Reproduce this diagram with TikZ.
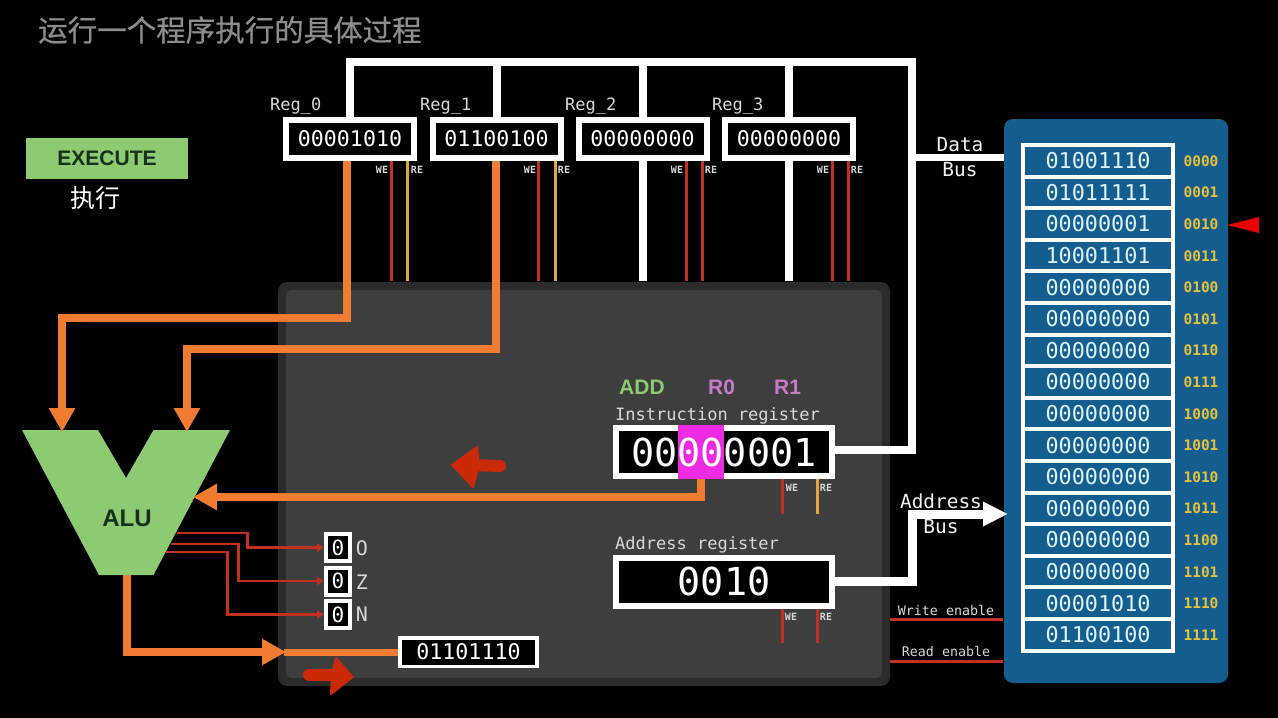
\documentclass[tikz,border=0pt]{standalone}
\usepackage{fontspec}
\setmainfont{Liberation Sans}
\newfontfamily\monof{DejaVu Sans Mono}
\newfontfamily\cjkf{Noto Sans CJK SC}
\newfontfamily\cjkm[FakeBold=0.5]{Noto Sans CJK SC}
\usetikzlibrary{arrows.meta}
\definecolor{bgpanel}{HTML}{3E3E3E}
\definecolor{edgepanel}{HTML}{2B2B2B}
\definecolor{orangewire}{HTML}{F07C31}
\definecolor{redwire}{HTML}{C4301F}
\definecolor{yellowwire}{HTML}{E0A83A}
\definecolor{alugreen}{HTML}{8CCB72}
\definecolor{memblue}{HTML}{135E8E}
\definecolor{addryellow}{HTML}{E6C13C}
\definecolor{softwhite}{HTML}{F2F2F2}
\definecolor{celltext}{HTML}{DDF2FA}
\definecolor{lab}{HTML}{D8D8D8}
\definecolor{fatred}{HTML}{CB2A08}
\definecolor{oppink}{HTML}{C67CC8}
\definecolor{hilite}{HTML}{EE2BE2}
\definecolor{darkgreen}{HTML}{16301A}
\tikzset{
  regbox/.style={draw=white,line width=6pt,fill=black,text=white,inner sep=0pt,font=\monof\fontsize{21.6}{22}\selectfont,minimum width=128pt,minimum height=38pt},
  bigbox/.style={regbox,font=\monof\fontsize{38.5}{40}\selectfont,minimum width=216pt,minimum height=48pt},
  flagbox/.style={regbox,line width=4pt,font=\monof\fontsize{21}{22}\selectfont,minimum width=24pt,minimum height=27pt},
  cell/.style={draw=white,line width=4pt,fill=memblue,text=celltext,inner sep=0pt,font=\monof\fontsize{21.8}{22}\selectfont,minimum width=150pt,minimum height=31.6pt},
  addr/.style={text=addryellow,inner sep=0pt,font=\monof\bfseries\fontsize{14.5}{15}\selectfont},
  lbl/.style={text=lab,inner sep=0pt,font=\monof\fontsize{17}{18}\selectfont},
  bustext/.style={text=softwhite,inner sep=0pt,font=\monof\fontsize{19.4}{20}\selectfont},
  entext/.style={text=lab,inner sep=0pt,font=\monof\fontsize{13.3}{14}\selectfont},
  tiny/.style={text=lab,inner sep=0pt,font=\monof\bfseries\fontsize{10}{11}\selectfont},
  opname/.style={inner sep=0pt,font=\bfseries\fontsize{21}{22}\selectfont},
  flagname/.style={text=lab,inner sep=0pt,font=\monof\fontsize{20}{21}\selectfont},
  bus/.style={draw=white,line width=8pt},
  buswire/.style={draw=white,line width=7pt},
  addrwire/.style={draw=white,line width=9pt},
  orangeline/.style={draw=orangewire,line width=8pt},
  orangearrow/.style={orangeline,-{Triangle[length=24pt,width=25pt]}},
  we/.style={draw=redwire,line width=3pt},
  re/.style={draw=yellowwire,line width=3pt},
  flagwire/.style={draw=redwire,line width=2.4pt,-{Triangle[length=7pt,width=8pt]}},
  fatshaft/.style={draw=fatred,line width=12pt,line cap=round},
  fathead/.style={fill=fatred,draw=fatred,line width=2pt,line join=round},
}
\begin{document}
\begin{tikzpicture}[x=1pt,y=-1pt]
\useasboundingbox (0,0) rectangle (1278,718);
\fill[black] (0,0) rectangle (1278,718);
% panels
\fill[edgepanel,rounded corners=9pt] (278,282) rectangle (890,686);
\fill[bgpanel,rounded corners=5pt] (286,290) rectangle (882,678);
\fill[memblue,rounded corners=9pt] (1004,119) rectangle (1228,683);
% title
\node[anchor=west,inner sep=0pt,text=white!55!black,font=\cjkm\fontsize{29.5}{30}\selectfont] (title) at (38,30) {运行一个程序执行的具体过程};
\node[fill=alugreen,minimum width=162pt,minimum height=41pt,inner sep=0pt,text=darkgreen,font=\bfseries\fontsize{21}{22}\selectfont] (exec) at (107,158.5) {EXECUTE};
\node[inner sep=0pt,text=white,font=\cjkf\fontsize{25}{26}\selectfont] (execcn) at (95,198) {执行};
% registers
\node[regbox] (reg0) at (350,139) {00001010};
\node[regbox] (reg1) at (496.5,139) {01100100};
\node[regbox] (reg2) at (642.5,139) {00000000};
\node[regbox] (reg3) at (789,139) {00000000};
\node[lbl,anchor=base west] (l0) at (270,110) {Reg\_0};
\node[lbl,anchor=base west] (l1) at (420,110) {Reg\_1};
\node[lbl,anchor=base west] (l2) at (565,110) {Reg\_2};
\node[lbl,anchor=base west] (l3) at (712,110) {Reg\_3};
% instruction and address registers
\node[bigbox,text=black] (ir) at (724,452) {};
\node[fill=hilite,inner sep=0pt,minimum width=46pt,minimum height=54pt] (mag) at (701,452) {};
\node[inner sep=0pt,text=white,font=\monof\fontsize{38.5}{40}\selectfont] (irtext) at (724,452) {00000001};
\node[bigbox] (ar) at (724,581.5) {0010};
\node[lbl,anchor=base west] (irl) at (615,420) {Instruction register};
\node[lbl,anchor=base west] (arl) at (615,549) {Address register};
\node[opname,text=alugreen,anchor=west] (add) at (619,387) {ADD};
\node[opname,text=oppink,anchor=west] (r0) at (708,387) {R0};
\node[opname,text=oppink,anchor=west] (r1) at (774,387) {R1};
% coordinates
\coordinate (busL) at (349,62);
\coordinate (busR) at (912,62);
\coordinate (dbstub) at (1004,157);
\coordinate (aluA) at (62,432);
\coordinate (aluB) at (187,432);
\coordinate (aluC) at (193,497);
\coordinate (alu0) at (127,575);
\coordinate (a0) at (347,318);
\coordinate (a1) at (496,349);
\coordinate (abtip) at (1008,514);
% data bus
\draw[bus] (reg0.north) -- (350,62) -- (busR) -- (912,450) -- (ir.east |- 0,450);
\draw[bus] (reg1.north) -- (reg1.north |- busL);
\draw[bus] (reg2.north) -- (reg2.north |- busL);
\draw[bus] (reg3.north) -- (reg3.north |- busL);
\coordinate (b2) at (642,281);
\coordinate (b3) at (789,281);
\draw[bus] (reg2.south) -- (reg2.south |- b2);
\draw[bus] (reg3.south) -- (reg3.south |- b3);
\draw[buswire] (912,157) -- (dbstub);
\node[bustext] (db1) at (960,145) {Data};
\node[bustext] (db2) at (960,170) {Bus};
% address bus
\draw[addrwire,-{Triangle[length=25pt,width=23pt]}] (ar.east) -- (912,581.5) -- (912,514) -- (abtip);
\node[bustext] (ab1) at (941,501) {Address};
\node[bustext] (ab2) at (941,527) {Bus};
% control lines on registers
\foreach \n/\w/\r/\c in {reg0/391/407/re,reg1/538/555/re,reg2/686/702/we,reg3/832/848/we}{
  \draw[we] (\n.south -| \w,0) -- (\w,281);
  \draw[\c] (\n.south -| \r,0) -- (\r,281);
}
\foreach \i/\x/\t in {a/382/WE,b/417/RE,c/530/WE,d/564/RE,e/677/WE,f/711/RE,g/823/WE,h/857/RE}{
  \node[tiny] (t\i) at (\x,170) {\t};
}
\draw[we] (ir.south -| 782,0) -- (782,514);
\draw[re] (ir.south -| 817,0) -- (817,514);
\draw[we] (ar.south -| 782,0) -- (782,643);
\draw[we] (ar.south -| 817,0) -- (817,643);
\node[tiny] (t1) at (792,488) {WE};
\node[tiny] (t2) at (826,488) {RE};
\node[tiny] (t3) at (791,617) {WE};
\node[tiny] (t4) at (826,617) {RE};
% enable lines
\coordinate (w1) at (890,619); \coordinate (w2) at (1003,619);
\coordinate (r1a) at (890,661); \coordinate (r2a) at (1003,661);
\draw[we] (w1) -- (w2);
\draw[we] (r1a) -- (r2a);
\node[entext] (wen) at (946,610) {Write enable};
\node[entext] (ren) at (946,651) {Read enable};
% ALU
\fill[alugreen] (22,430) -- (98,430) -- (126,478) -- (153.5,430) -- (230,430) -- (153.5,575) -- (99,575) -- cycle;
\node[inner sep=0pt,text=darkgreen,font=\bfseries\fontsize{24}{25}\selectfont] (alu) at (127,518) {ALU};
% orange wires
\draw[orangearrow] (reg0.south -| a0) -- (a0) -- (62,318) -- (aluA);
\draw[orangearrow] (reg1.south -| a1) -- (a1) -- (187,349) -- (aluB);
\draw[orangearrow] (mag.south) -- (701,497) -- (aluC);
\node[regbox,line width=3.5pt,minimum width=137pt,minimum height=28.5pt] (res) at (468.5,652) {01101110};
\draw[orangearrow] (alu0) -- (127,652) -- (286,652);
\draw[orangeline,line width=7pt] (284,652) -- (res.west);
% flags
\node[flagbox] (fo) at (338,547.5) {0};
\node[flagbox] (fz) at (338,581) {0};
\node[flagbox] (fn) at (338,614.5) {0};
\node[flagname] (no) at (362,548) {O};
\node[flagname] (nz) at (362,582) {Z};
\node[flagname] (nn) at (362,614) {N};
\draw[flagwire] (177,533) -- (247.5,533) -- (247.5,547.5) -- (fo.west);
\draw[flagwire] (171,544) -- (238.5,544) -- (238.5,581) -- (fz.west);
\draw[flagwire] (166,552) -- (227.5,552) -- (227.5,614.5) -- (fn.west);
% fat red arrows
\draw[fatshaft] (500,466) -- (470,465);
\filldraw[fathead] (452,465) -- (477,447) -- (479,465) -- (473,487) -- cycle;
\draw[fatshaft] (309,675) -- (338,675);
\filldraw[fathead] (352.5,677) -- (336,658) -- (332,675) -- (331,694) -- cycle;
% memory
\foreach \i/\d/\a in {0/01001110/0000,1/01011111/0001,2/00000001/0010,3/10001101/0011,4/00000000/0100,5/00000000/0101,6/00000000/0110,7/00000000/0111,8/00000000/1000,9/00000000/1001,10/00000000/1010,11/00000000/1011,12/00000000/1100,13/00000000/1101,14/00001010/1110,15/01100100/1111}{
  \node[cell] (m\i) at (1098,160.8+31.6*\i) {\d};
  \node[addr] (ad\i) at (1201,161+31.6*\i) {\a};
}
\fill[red!92!black] (1227,225) -- (1259,217) -- (1259,233) -- cycle;
\end{tikzpicture}
\end{document}
